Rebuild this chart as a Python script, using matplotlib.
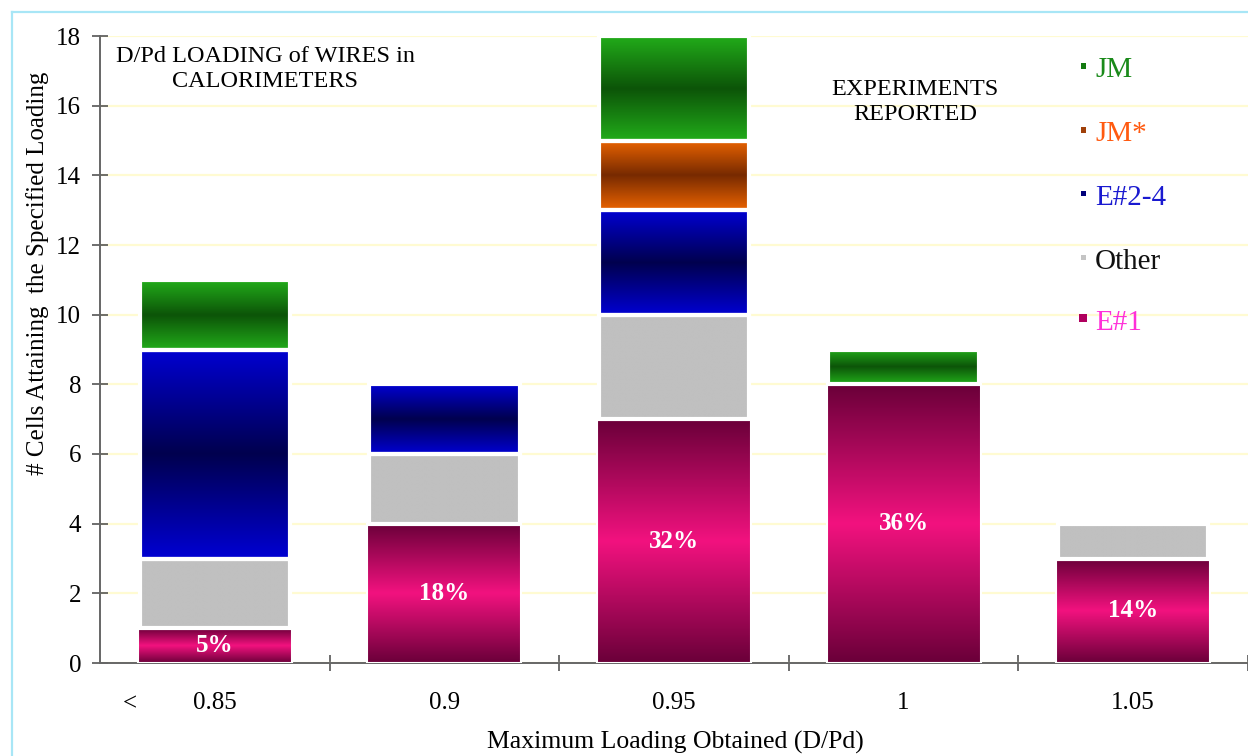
import numpy as np
import matplotlib
matplotlib.use("Agg")
import matplotlib.pyplot as plt
from matplotlib.colors import to_rgb
from matplotlib.patches import Rectangle
from matplotlib.lines import Line2D

plt.rcParams['font.family'] = ['Liberation Serif', 'DejaVu Serif']

# --- data: cells per maximum loading bin ---
categories = ['0.85', '0.9', '0.95', '1', '1.05']
e1 = [1, 4, 7, 8, 3]
other = [2, 2, 3, 0, 1]
e24 = [6, 2, 3, 0, 0]
jm_star = [0, 0, 2, 0, 0]
jm = [2, 0, 3, 1, 0]
e1_pct = ['5%', '18%', '32%', '36%', '14%']

# --- gradient styles (edge colour, centre colour) ---
styles = {
    'E#1': ('#6a0039', '#f2127f'),
    'Other': ('#c0c0c0', '#c0c0c0'),
    'E#2-4': ('#0000d2', '#00004e'),
    'JM*': ('#ea6300', '#772a00'),
    'JM': ('#22ac1a', '#0c5408'),
}
series = [('E#1', e1), ('Other', other), ('E#2-4', e24), ('JM*', jm_star), ('JM', jm)]


def gradient(edge, centre, n=200):
    s = np.linspace(0, 1, n)
    t = np.abs(2 * s - 1)[:, None]
    e = np.array(to_rgb(edge))
    c = np.array(to_rgb(centre))
    img = c * (1 - t) + e * t
    return img[:, None, :]


fig = plt.figure(figsize=(12.48, 7.56), dpi=100)
ax = fig.add_axes([100 / 1248, 93 / 756, 1148 / 1248, 627 / 756])

x = np.arange(len(categories))
bottoms = np.zeros(len(categories))
for name, vals in series:
    edge, centre = styles[name]
    width = 0.67 if name == 'E#1' else 0.655
    lw = 1.5 if name == 'E#1' else 3.0
    for i, v in enumerate(vals):
        if v <= 0:
            continue
        y0 = bottoms[i]
        ax.imshow(gradient(edge, centre), extent=[x[i] - width / 2, x[i] + width / 2, y0, y0 + v],
                  origin='lower', aspect='auto', zorder=2, interpolation='bilinear')
        ax.bar(x[i], v, width=width, bottom=y0, facecolor='none', edgecolor='white',
               linewidth=lw, zorder=3)
    bottoms += np.array(vals)

# percentage labels inside the E#1 segments
for i, lab in enumerate(e1_pct):
    ax.text(x[i], e1[i] / 2, lab, ha='center', va='center', color='white',
            fontsize=18, fontweight='bold', zorder=4)

ax.set_xlim(-0.5, 4.5)
ax.set_ylim(0, 18)
ax.set_yticks(np.arange(0, 19, 2))
ax.yaxis.grid(True, color='#fffbd2', linewidth=1.6, zorder=0)
ax.set_axisbelow(True)

ax.set_xticks(np.arange(0.5, 5, 1))
ax.set_xticklabels([])
ax.set_xticks(x, minor=True)
ax.set_xticklabels(categories, minor=True)
ax.tick_params(axis='x', which='minor', length=0, pad=21, labelsize=18)
ax.tick_params(axis='x', which='major', direction='inout', length=11, width=1.2, color='#555555')
ax.tick_params(axis='y', direction='inout', length=11, width=1.2, color='#555555', labelsize=18, pad=8)

for side in ['top', 'right']:
    ax.spines[side].set_visible(False)
for side in ['left', 'bottom']:
    ax.spines[side].set_color('#666666')
    ax.spines[side].set_linewidth(1.4)

ax.text(-0.37, -1.2, '<', ha='center', va='center', fontsize=18)

# annotations
ax.text(0.22, 17.05, 'D/Pd LOADING of WIRES in\nCALORIMETERS', ha='center', va='center',
        fontsize=17.5, linespacing=1.22)
ax.text(3.05, 16.1, 'EXPERIMENTS\nREPORTED', ha='center', va='center',
        fontsize=17.5, linespacing=1.22)

fig.text(675 / 1248, 1 - 742 / 756, 'Maximum Loading Obtained (D/Pd)', ha='center', va='center',
         fontsize=18.5)
fig.text(38 / 1248, 1 - 273 / 756, '# Cells Attaining  the Specified Loading', ha='center',
         va='center', rotation=90, fontsize=18)

# legend drawn by hand: marker squares and coloured names
legend_items = [
    ('JM', '#137a10', '#1a8a1a', 66, 70, 5),
    ('JM*', '#a0400a', '#ff5a10', 130, 134, 5),
    ('E#2-4', '#00007a', '#1a1ad0', 193, 198, 5),
    ('Other', '#c4c4c4', '#111111', 257, 262, 5),
    ('E#1', '#b0005e', '#ff30d8', 318, 323, 8),
]
for name, mcol, tcol, my, ty, ms in legend_items:
    fig.patches.append(Rectangle(((1083 - ms / 2) / 1248, 1 - (my + ms / 2) / 756),
                                 ms / 1248, ms / 756, transform=fig.transFigure,
                                 facecolor=mcol, edgecolor='none'))
    fig.text(1095 / 1248, 1 - ty / 756, name, ha='left', va='center', color=tcol, fontsize=21)

# light frame around the slide
frame_col = '#a8e6f6'
fig.lines.append(Line2D([12 / 1248, 12 / 1248], [0, 1 - 12 / 756], transform=fig.transFigure,
                        color=frame_col, linewidth=1.6))
fig.lines.append(Line2D([12 / 1248, 1], [1 - 12 / 756, 1 - 12 / 756], transform=fig.transFigure,
                        color=frame_col, linewidth=1.6))

fig.savefig('out.png', dpi=100)
